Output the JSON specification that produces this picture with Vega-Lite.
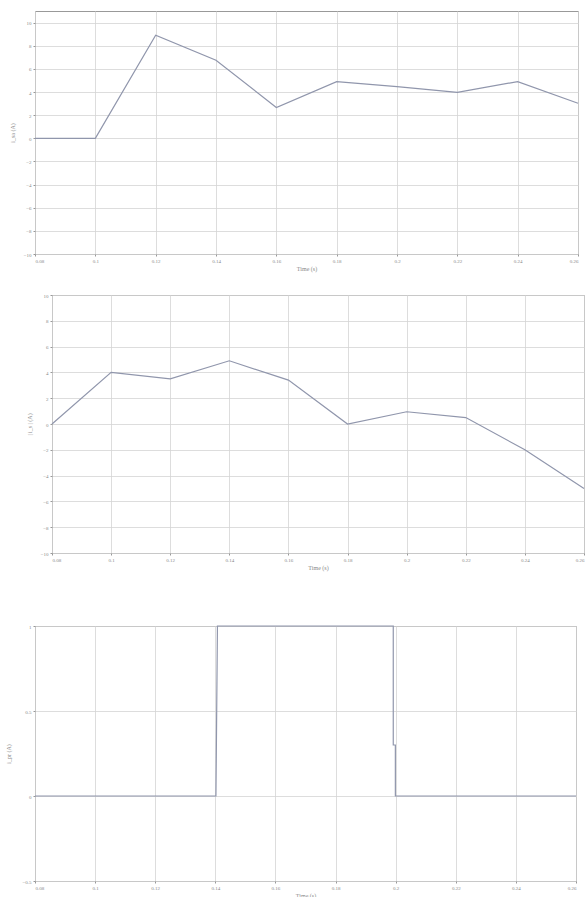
{
  "$schema": "https://vega.github.io/schema/vega-lite/v6.json",
  "padding": {"left": 5, "top": 10, "right": 0, "bottom": 0},
  "background": "white",
  "config": {
    "view": {"stroke": "#999", "strokeWidth": 1},
    "axis": {
      "labelFontSize": 5, "labelColor": "#888", "titleFontSize": 6, "titleColor": "#888",
      "titleFontWeight": "normal", "labelFont": "Liberation Serif", "titleFont": "Liberation Serif",
      "gridColor": "#d4d4d4", "gridWidth": 0.8, "domain": false, "tickColor": "#999", "tickSize": 2, "labelPadding": 2
    },
    "line": {"color": "#9096ac", "strokeWidth": 1.2}
  },
  "datasets": {
    "isa": [
      {"t": 0.08, "v": 0}, {"t": 0.1, "v": 0}, {"t": 0.12, "v": 8.9}, {"t": 0.14, "v": 6.75},
      {"t": 0.16, "v": 2.66}, {"t": 0.18, "v": 4.9}, {"t": 0.2, "v": 4.46}, {"t": 0.22, "v": 3.97},
      {"t": 0.24, "v": 4.9}, {"t": 0.26, "v": 3.03}
    ],
    "isb": [
      {"t": 0.08, "v": 0}, {"t": 0.1, "v": 4.0}, {"t": 0.12, "v": 3.5}, {"t": 0.14, "v": 4.9},
      {"t": 0.16, "v": 3.4}, {"t": 0.18, "v": 0}, {"t": 0.2, "v": 0.95}, {"t": 0.22, "v": 0.5},
      {"t": 0.24, "v": -2.0}, {"t": 0.26, "v": -5.0}
    ],
    "ipr": [
      {"i": 0, "t": 0.08, "v": 0}, {"i": 1, "t": 0.1402, "v": 0}, {"i": 2, "t": 0.1407, "v": 1},
      {"i": 3, "t": 0.1992, "v": 1}, {"i": 4, "t": 0.1992, "v": 0.3}, {"i": 5, "t": 0.1999, "v": 0.3},
      {"i": 6, "t": 0.1999, "v": 0}, {"i": 7, "t": 0.26, "v": 0}
    ],
    "spacer": [{"a": 1}]
  },
  "spacing": 20,
  "vconcat": [
    {
      "width": 543, "height": 243,
      "data": {"name": "isa"},
      "mark": {"type": "line"},
      "encoding": {
        "x": {"field": "t", "type": "quantitative", "scale": {"domain": [0.08, 0.26], "nice": false, "zero": false},
              "axis": {"values": [0.08, 0.1, 0.12, 0.14, 0.16, 0.18, 0.2, 0.22, 0.24, 0.26], "format": "~g", "title": "Time (s)", "titlePadding": 2}},
        "y": {"field": "v", "type": "quantitative", "scale": {"domain": [-10, 11], "nice": false},
              "axis": {"values": [-10, -8, -6, -4, -2, 0, 2, 4, 6, 8, 10], "title": "i_sa (A)", "titlePadding": 8}}
      }
    },
    {
      "spacing": 52,
      "vconcat": [
        {
          "spacing": 16,
          "bounds": "flush",
          "hconcat": [
            {
              "width": 1, "height": 258,
              "view": {"stroke": null},
              "data": {"name": "spacer"},
              "mark": {"type": "point", "opacity": 0, "size": 1},
              "encoding": {}
            },
            {
              "width": 532, "height": 258,
              "data": {"name": "isb"},
              "mark": {"type": "line"},
              "encoding": {
                "x": {"field": "t", "type": "quantitative", "scale": {"domain": [0.08, 0.26], "nice": false, "zero": false},
                      "axis": {"values": [0.08, 0.1, 0.12, 0.14, 0.16, 0.18, 0.2, 0.22, 0.24, 0.26], "format": "~g", "title": "Time (s)", "titlePadding": 2}},
                "y": {"field": "v", "type": "quantitative", "scale": {"domain": [-10, 10], "nice": false},
                      "axis": {"values": [-10, -8, -6, -4, -2, 0, 2, 4, 6, 8, 10], "title": "| i_s | (A)", "titlePadding": 8}}
              }
            }
          ]
        },
        {
          "width": 541, "height": 255,
          "data": {"name": "ipr"},
          "mark": {"type": "line"},
          "encoding": {
            "x": {"field": "t", "type": "quantitative", "scale": {"domain": [0.08, 0.26], "nice": false, "zero": false},
                  "axis": {"values": [0.08, 0.1, 0.12, 0.14, 0.16, 0.18, 0.2, 0.22, 0.24, 0.26], "format": "~g", "title": "Time (s)", "titlePadding": 2}},
            "y": {"field": "v", "type": "quantitative", "scale": {"domain": [-0.5, 1], "nice": false},
                  "axis": {"values": [-0.5, 0, 0.5, 1], "format": "~g", "title": "i_pr (A)", "titlePadding": 10}},
            "order": {"field": "i", "type": "quantitative"}
          }
        }
      ]
    }
  ]
}
